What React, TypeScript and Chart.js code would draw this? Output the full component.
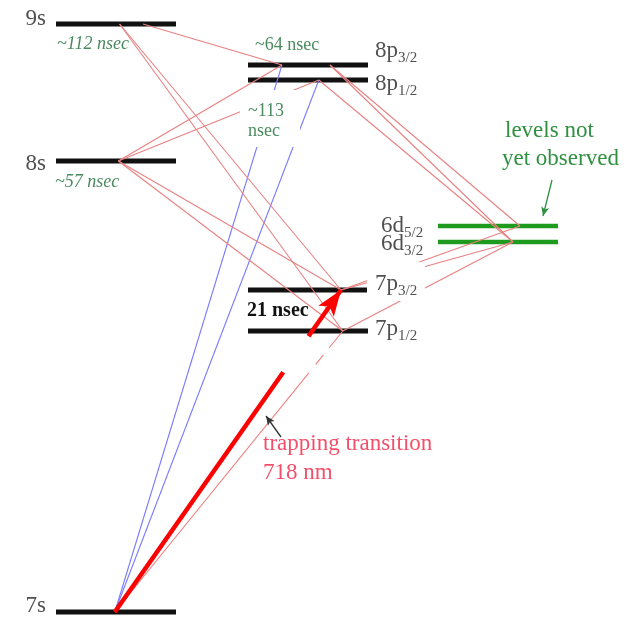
import { useEffect, useRef } from 'react';
import { Chart, registerables } from 'chart.js';

Chart.register(...registerables);

// ---------------- data ----------------
const levelNames = ['7s', '7p1/2', '7p3/2', '6d3/2', '6d5/2', '8s', '8p1/2', '8p3/2', '9s'];
const levelMain = ['7s', '7p', '7p', '6d', '6d', '8s', '8p', '8p', '9s'];
const levelSub = ['', '1/2', '3/2', '3/2', '5/2', '', '1/2', '3/2', ''];
// schematic (not to scale) height of each level in the diagram
const levelHeight = [5, 286, 327, 375, 391, 456, 537, 552, 593];
const levelColumn = ['S', 'P', 'P', 'D', 'D', 'S', 'P', 'P', 'S'];
const levelObserved = [true, true, true, false, false, true, true, true, true];

// [from level, position along from-level (0..1), to level, position along to-level]
const decays: [string, number, string, number][] = [
  ['9s', 0.725, '8p3/2', 0.283],
  ['9s', 0.53, '7p3/2', 0.775],
  ['9s', 0.53, '7p1/2', 0.79],
  ['8s', 0.52, '8p3/2', 0.283],
  ['8s', 0.52, '8p1/2', 0.59],
  ['8s', 0.52, '7p3/2', 0.775],
  ['8s', 0.52, '7p1/2', 0.79],
  ['8p3/2', 0.683, '6d5/2', 0.683],
  ['8p3/2', 0.683, '6d3/2', 0.625],
  ['8p1/2', 0.59, '6d3/2', 0.625],
  ['7p3/2', 0.775, '6d5/2', 0.683],
  ['7p3/2', 0.775, '6d3/2', 0.625],
  ['7p1/2', 0.79, '6d3/2', 0.625],
];
const blueExcitations: [string, number, string, number][] = [
  ['7s', 0.49, '8p3/2', 0.283],
  ['7s', 0.49, '8p1/2', 0.59],
];
const weakExcitation: [string, number, string, number] = ['7s', 0.49, '7p1/2', 0.79];
const trappingTransition: [string, number, string, number] = ['7s', 0.49, '7p3/2', 0.775];

const lifetimeTexts = ['~112 nsec', '~57 nsec', '~64 nsec', '~113', 'nsec', '21 nsec'];
const noteTexts = ['levels not', 'yet observed', 'trapping transition', '718 nm'];

// ---------------- layout / style ----------------
const columnStart: Record<string, number> = { S: 56, P: 248, D: 438 };
const LEVEL_W = 120;
const levelLabelDy = [0, -4, 0, -8, -6, -9, -10, 8, -1];
const levelLabelX: Record<string, [number, CanvasTextAlign]> = {
  S: [46, 'right'],
  P: [375, 'left'],
  D: [381, 'left'],
};
const SERIF = '"Liberation Serif", "Times New Roman", serif';
const LIFE_COLOR = '#4b8a5f';
const NOTE_GREEN = '#2f9140';
const NOTE_RED = '#f2506a';

const lifetimeStyle: { x: number; y: number; font: string; color: string }[] = [
  { x: 57, y: 568, font: `italic 18px ${SERIF}`, color: LIFE_COLOR },
  { x: 55, y: 430, font: `italic 18px ${SERIF}`, color: LIFE_COLOR },
  { x: 255, y: 567, font: `18px ${SERIF}`, color: LIFE_COLOR },
  { x: 248, y: 501, font: `18px ${SERIF}`, color: LIFE_COLOR },
  { x: 248, y: 481, font: `18px ${SERIF}`, color: LIFE_COLOR },
  { x: 247, y: 301, font: `bold 20px ${SERIF}`, color: '#111111' },
];
const noteStyle: { x: number; y: number; font: string; color: string }[] = [
  { x: 505, y: 480, font: `23px ${SERIF}`, color: NOTE_GREEN },
  { x: 502, y: 452, font: `23px ${SERIF}`, color: NOTE_GREEN },
  { x: 263, y: 167, font: `23px ${SERIF}`, color: NOTE_RED },
  { x: 263, y: 138, font: `23px ${SERIF}`, color: NOTE_RED },
];
// white label backgrounds that hide lines underneath: [x0, yTop, x1, yBottom]
const masks: [number, number, number, number][] = [
  [240, 527, 300, 470],
  [367, 355, 425, 316],
];
// pointer arrows [x0, y0, x1, y1, color]
const pointers: [number, number, number, number, string][] = [
  [281, 180, 266, 201, '#333333'],
  [552, 437, 543, 401, NOTE_GREEN],
];

function levelIndex(name: string) {
  return levelNames.indexOf(name);
}
function pointOn(name: string, frac: number) {
  const i = levelIndex(name);
  return { x: columnStart[levelColumn[i]] + frac * LEVEL_W, y: levelHeight[i] };
}
function lineData(t: [string, number, string, number]) {
  return [pointOn(t[0], t[1]), pointOn(t[2], t[3])];
}

function drawArrowHead(
  ctx: CanvasRenderingContext2D,
  x1: number, y1: number, x2: number, y2: number,
  len: number, half: number, notch: number, color: string,
) {
  const a = Math.atan2(y2 - y1, x2 - x1);
  const c = Math.cos(a), s = Math.sin(a);
  ctx.save();
  ctx.fillStyle = color;
  ctx.beginPath();
  ctx.moveTo(x2, y2);
  ctx.lineTo(x2 - len * c + half * s, y2 - len * s - half * c);
  ctx.lineTo(x2 - (len - notch) * c, y2 - (len - notch) * s);
  ctx.lineTo(x2 - len * c - half * s, y2 - len * s + half * c);
  ctx.closePath();
  ctx.fill();
  ctx.restore();
}

const diagramPlugin = {
  id: 'diagramText',
  afterDatasetsDraw(chart: any) {
    const ctx: CanvasRenderingContext2D = chart.ctx;
    const xs = chart.scales.x, ys = chart.scales.y;
    const X = (v: number) => xs.getPixelForValue(v);
    const Y = (v: number) => ys.getPixelForValue(v);
    ctx.save();
    // masks
    ctx.fillStyle = '#ffffff';
    masks.forEach(([x0, y0, x1, y1]) => {
      ctx.fillRect(X(x0), Y(y0), X(x1) - X(x0), Y(y1) - Y(y0));
    });
    // trapping arrow head
    const [p0, p1] = lineData(trappingTransition);
    drawArrowHead(ctx, X(p0.x), Y(p0.y), X(p1.x), Y(p1.y), 26, 9.5, 6, '#ff0000');
    // pointers
    pointers.forEach(([x0, y0, x1, y1, col]) => {
      ctx.strokeStyle = col;
      ctx.lineWidth = 1.3;
      ctx.beginPath();
      ctx.moveTo(X(x0), Y(y0));
      ctx.lineTo(X(x1), Y(y1));
      ctx.stroke();
      drawArrowHead(ctx, X(x0), Y(y0), X(x1), Y(y1), 9, 4, 2, col);
    });
    // level labels
    ctx.textBaseline = 'alphabetic';
    levelNames.forEach((_, i) => {
      const [lx, align] = levelLabelX[levelColumn[i]];
      const by = Y(levelHeight[i] + levelLabelDy[i]);
      ctx.fillStyle = '#505050';
      ctx.font = `23px ${SERIF}`;
      const mainW = ctx.measureText(levelMain[i]).width;
      ctx.font = `15px ${SERIF}`;
      const subW = levelSub[i] ? ctx.measureText(levelSub[i]).width : 0;
      let x = X(lx);
      if (align === 'right') x -= mainW + subW;
      ctx.textAlign = 'left';
      ctx.font = `23px ${SERIF}`;
      ctx.fillText(levelMain[i], x, by);
      if (levelSub[i]) {
        ctx.font = `15px ${SERIF}`;
        ctx.fillText(levelSub[i], x + mainW, by + 5);
      }
    });
    // lifetimes & notes
    ctx.textAlign = 'left';
    lifetimeTexts.forEach((t, i) => {
      const st = lifetimeStyle[i];
      ctx.font = st.font;
      ctx.fillStyle = st.color;
      ctx.fillText(t, X(st.x), Y(st.y));
    });
    noteTexts.forEach((t, i) => {
      const st = noteStyle[i];
      ctx.font = st.font;
      ctx.fillStyle = st.color;
      ctx.fillText(t, X(st.x), Y(st.y));
    });
    ctx.restore();
  },
};

export default function App() {
  const ref = useRef<HTMLCanvasElement | null>(null);
  useEffect(() => {
    if (!ref.current) return;
    const base = { showLine: true, pointRadius: 0, pointHoverRadius: 0, clip: false as any, tension: 0 };
    const datasets: any[] = [];
    levelNames.forEach((name, i) => {
      const x0 = columnStart[levelColumn[i]];
      datasets.push({
        ...base,
        label: name,
        data: [{ x: x0, y: levelHeight[i] }, { x: x0 + LEVEL_W, y: levelHeight[i] }],
        borderColor: levelObserved[i] ? '#111111' : '#1e9a1e',
        borderWidth: levelObserved[i] ? 5 : 4.5,
        order: 3,
      });
    });
    decays.forEach((t) => {
      datasets.push({ ...base, label: t[0] + '-' + t[2], data: lineData(t), borderColor: '#e88080', borderWidth: 1.1, order: 1 });
    });
    blueExcitations.forEach((t) => {
      datasets.push({ ...base, label: t[0] + '-' + t[2], data: lineData(t), borderColor: '#7a7aff', borderWidth: 1.1, order: 1 });
    });
    datasets.push({
      ...base,
      label: 'weak',
      data: lineData(weakExcitation),
      borderColor: '#f08080',
      borderWidth: 1.1,
      borderDash: [308, 11, 12, 9, 60],
      order: 1,
    });
    datasets.push({
      ...base,
      label: 'trapping',
      data: lineData(trappingTransition),
      borderColor: '#ff0000',
      borderWidth: 4.5,
      borderDash: [293, 44, 1000],
      order: 0,
    });

    const chart = new Chart(ref.current, {
      type: 'scatter',
      data: { datasets },
      options: {
        animation: false,
        responsive: false,
        maintainAspectRatio: false,
        events: [],
        layout: { padding: 0 },
        plugins: { legend: { display: false }, tooltip: { enabled: false } },
        scales: {
          x: { type: 'linear', min: 0, max: 640, display: false },
          y: { type: 'linear', min: 0, max: 617, display: false },
        },
      },
      plugins: [diagramPlugin],
    } as any);
    return () => chart.destroy();
  }, []);

  return (
    <div style={{ position: 'absolute', left: 0, top: 0, width: 640, height: 617, background: '#fff' }}>
      <canvas ref={ref} width={640} height={617} style={{ display: 'block', width: 640, height: 617 }} />
    </div>
  );
}
